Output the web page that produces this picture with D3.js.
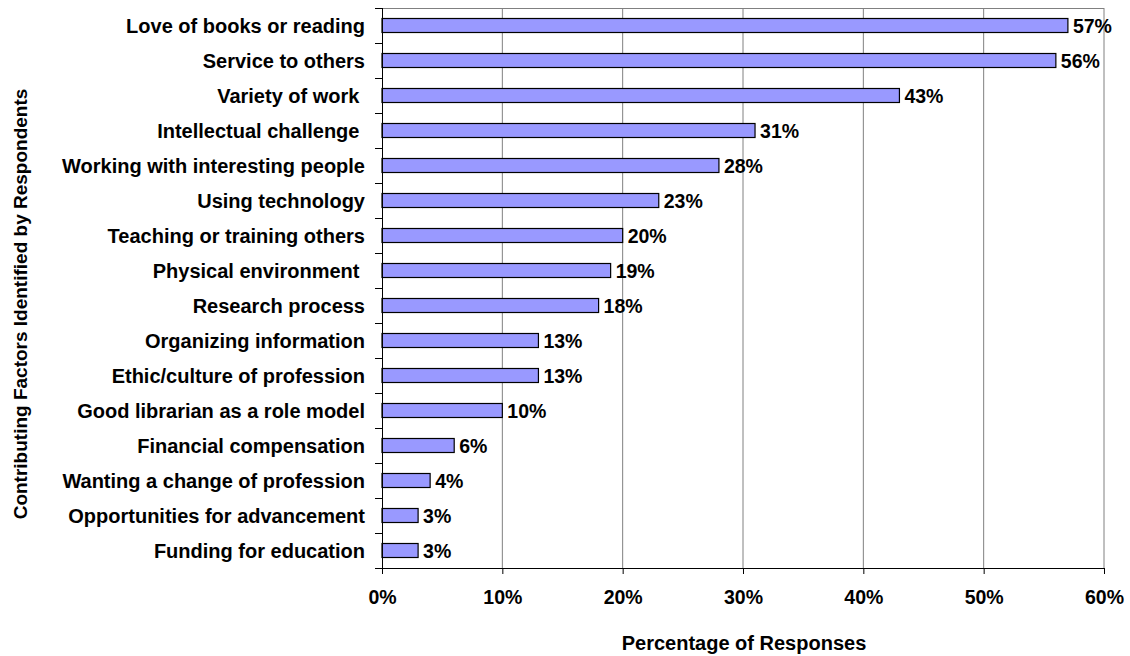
<!DOCTYPE html>
<html>
<head>
<meta charset="utf-8">
<script src="https://cdn.jsdelivr.net/npm/d3@7"></script>
<style>
  body { margin: 0; background: #fff; }
  text { font-family: Arial, "Liberation Sans", sans-serif; font-weight: bold; fill: #000; }
</style>
</head>
<body>
<div id="chart"></div>
<script>
const categories = [
  'Love of books or reading',
  'Service to others',
  'Variety of work ',
  'Intellectual challenge ',
  'Working with interesting people',
  'Using technology',
  'Teaching or training others',
  'Physical environment ',
  'Research process',
  'Organizing information',
  'Ethic/culture of profession',
  'Good librarian as a role model',
  'Financial compensation',
  'Wanting a change of profession',
  'Opportunities for advancement',
  'Funding for education',
];
const values = [57, 56, 43, 31, 28, 23, 20, 19, 18, 13, 13, 10, 6, 4, 3, 3];
const xTicks = [0, 10, 20, 30, 40, 50, 60];

const width = 1130;
const height = 656;
const margin = { top: 8, right: 26, bottom: 88, left: 382 };
const innerWidth = width - margin.left - margin.right;
const innerHeight = height - margin.top - margin.bottom;

const svg = d3.select('#chart')
  .append('svg')
  .attr('width', width)
  .attr('height', height);

const g = svg.append('g')
  .attr('transform', `translate(${margin.left}, ${margin.top})`);

const x = d3.scaleLinear()
  .domain([0, 60])
  .range([0, innerWidth]);

const y = d3.scaleBand()
  .domain(categories)
  .range([0, innerHeight])
  .paddingInner(0.6)
  .paddingOuter(0.3);

// gridlines
g.selectAll('.grid')
  .data(xTicks.slice(1))
  .enter()
  .append('line')
  .attr('x1', d => x(d))
  .attr('x2', d => x(d))
  .attr('y1', 0)
  .attr('y2', innerHeight)
  .attr('stroke', '#808080')
  .attr('stroke-width', 1);

g.append('line')
  .attr('x1', 0)
  .attr('x2', innerWidth)
  .attr('y1', 0.5)
  .attr('y2', 0.5)
  .attr('stroke', '#808080');

// bars
g.selectAll('.bar')
  .data(values)
  .enter()
  .append('rect')
  .attr('x', 0)
  .attr('y', (d, i) => y(categories[i]))
  .attr('width', d => x(d))
  .attr('height', y.bandwidth())
  .attr('fill', '#9999FF')
  .attr('stroke', '#000')
  .attr('stroke-width', 1.2);

g.selectAll('.value')
  .data(values)
  .enter()
  .append('text')
  .attr('x', d => x(d) + 5)
  .attr('y', (d, i) => y(categories[i]) + y.bandwidth() / 2)
  .attr('dy', '0.36em')
  .attr('font-size', 19.5)
  .text(d => d + '%');

// x axis
const xAxis = d3.axisBottom(x)
  .tickValues(xTicks)
  .tickFormat(d => d + '%')
  .tickSize(6)
  .tickPadding(16);

const gx = g.append('g')
  .attr('transform', `translate(0, ${innerHeight})`)
  .call(xAxis);
gx.select('.domain').attr('stroke', '#000');
gx.selectAll('.tick line').attr('stroke', '#000');
gx.selectAll('.tick text')
  .attr('font-size', 19.5)
  .attr('font-family', 'Arial, "Liberation Sans", sans-serif');

// y axis with ticks at category boundaries
const boundaries = d3.range(categories.length + 1).map(i => i * innerHeight / categories.length);
g.append('line')
  .attr('x1', 0.5)
  .attr('x2', 0.5)
  .attr('y1', 0)
  .attr('y2', innerHeight)
  .attr('stroke', '#000');
g.selectAll('.ytick')
  .data(boundaries)
  .enter()
  .append('line')
  .attr('x1', -7)
  .attr('x2', 0)
  .attr('y1', d => Math.round(d) + 0.5)
  .attr('y2', d => Math.round(d) + 0.5)
  .attr('stroke', '#000');

g.selectAll('.ylabel')
  .data(categories)
  .enter()
  .append('text')
  .attr('x', -17)
  .attr('y', d => y(d) + y.bandwidth() / 2)
  .attr('dy', '0.36em')
  .attr('text-anchor', 'end')
  .attr('font-size', 20)
  .style('white-space', 'pre')
  .text(d => d);

// axis titles
svg.append('text')
  .attr('x', 744)
  .attr('y', 650)
  .attr('text-anchor', 'middle')
  .attr('font-size', 20)
  .text('Percentage of Responses');

svg.append('text')
  .attr('transform', 'translate(27, 304) rotate(-90)')
  .attr('text-anchor', 'middle')
  .attr('font-size', 19)
  .text('Contributing Factors Identified by Respondents');
</script>
</body>
</html>
